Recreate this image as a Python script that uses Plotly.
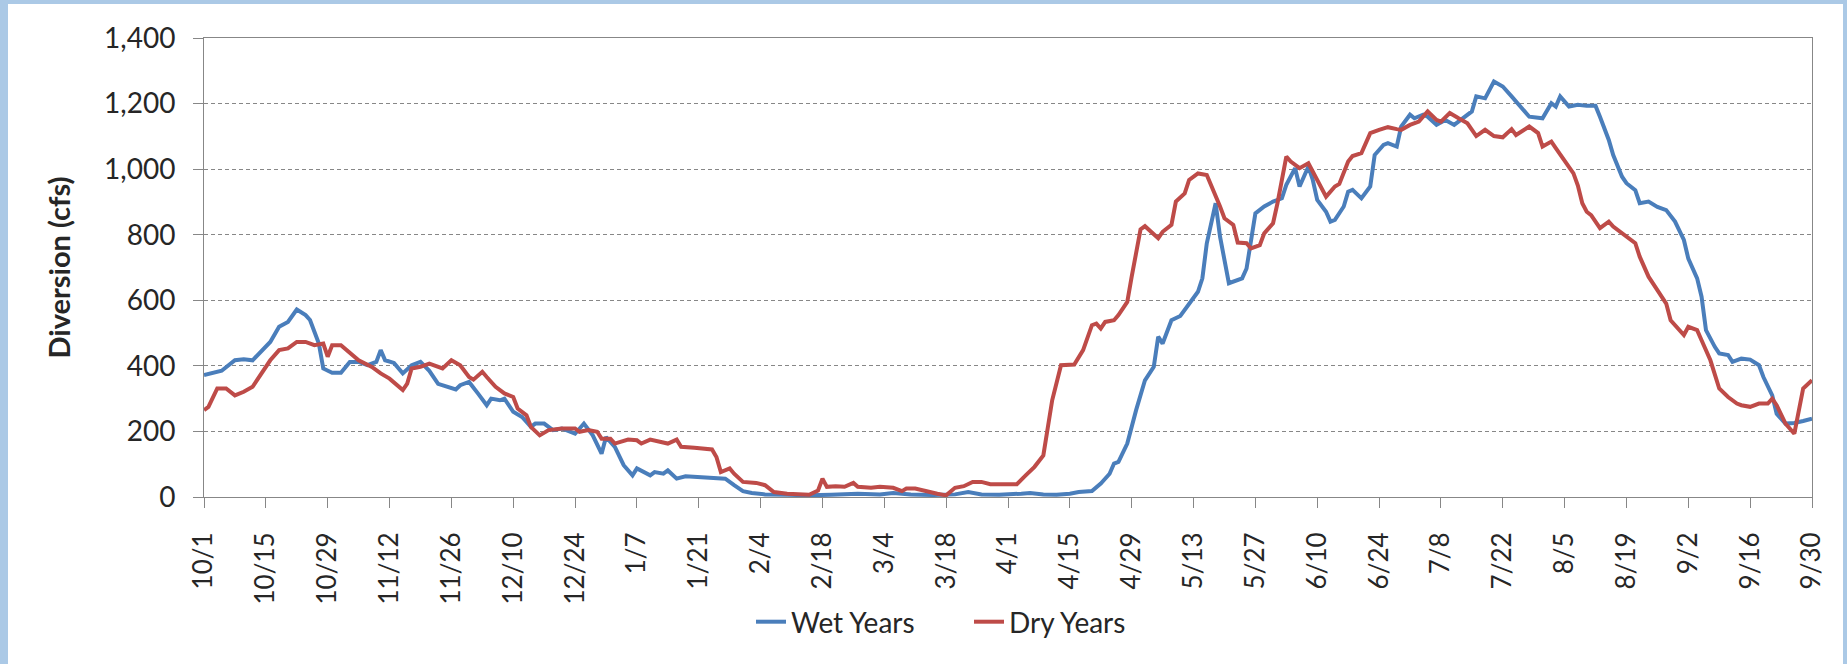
import pandas as pd
import plotly.graph_objects as go

# ---------------- data (day 0 = Oct 1 of the water year) ----------------
START = "2009-10-01"

wet_day = [0, 4, 7, 9, 11, 13, 15, 17, 19, 21, 23, 24, 26, 27, 29, 31, 33, 35, 37, 39,
           40, 41, 43, 45, 47, 49, 51, 53, 55, 57, 58, 60, 62, 64, 65, 67, 68, 70, 72, 74,
           75, 77, 79, 81, 84, 86, 88, 90, 91, 93, 95, 97, 98, 101, 102, 104, 105, 107, 109, 112,
           115, 118, 120, 122, 124, 127, 132, 137, 142, 148, 153, 156, 160, 165, 170, 173, 176, 180, 185, 187,
           190, 193, 196, 198, 201, 203, 205, 206, 207, 209, 211, 212, 213, 215, 216, 217, 219, 221, 222, 224,
           225, 226, 227, 229, 230, 232, 233, 235, 236, 238, 240, 242, 244, 245, 247, 248, 250, 251, 252, 254,
           255, 256, 258, 259, 260, 262, 264, 265, 267, 268, 270, 271, 273, 274, 276, 277, 279, 281, 283, 285,
           287, 288, 290, 292, 294, 296, 297, 299, 300, 303, 305, 306, 307, 309, 311, 313, 315, 316, 318, 319,
           321, 322, 324, 325, 327, 329, 331, 333, 335, 336, 338, 339, 340, 342, 343, 345, 346, 348, 350, 352,
           353, 355, 356, 358, 360, 362, 364]
wet_cfs = [372, 385, 417, 420, 417, 443, 473, 519, 534, 572, 555, 540, 468, 392, 379, 379, 412, 412, 402, 412,
           448, 417, 409, 377, 402, 412, 385, 345, 338, 328, 341, 351, 316, 280, 300, 295, 300, 260, 244, 214,
           224, 224, 204, 209, 193, 224, 188, 132, 183, 153, 97, 66, 87, 66, 76, 71, 81, 56, 63, 61,
           56, 56, 36, 18, 12, 8, 7, 5, 7, 10, 8, 12, 8, 6, 8, 15, 8, 7, 10, 12,
           8, 7, 10, 15, 18, 41, 71, 102, 107, 163, 265, 316, 356, 397, 489, 468, 539, 552, 570, 606,
           626, 667, 774, 896, 794, 652, 657, 667, 697, 865, 886, 901, 911, 952, 1003, 947, 1008, 967, 906, 870,
           840, 845, 886, 931, 937, 911, 947, 1043, 1074, 1079, 1069, 1130, 1166, 1155, 1166, 1160, 1135, 1150, 1135, 1155,
           1176, 1222, 1216, 1267, 1252, 1222, 1206, 1176, 1160, 1155, 1201, 1191, 1222, 1191, 1196, 1193, 1193, 1160, 1089, 1043,
           977, 957, 936, 896, 901, 885, 875, 840, 784, 727, 667, 611, 509, 458, 438, 433, 412, 422, 419, 402,
           366, 310, 254, 224, 226, 232, 239]

dry_day = [0, 1, 3, 5, 7, 9, 11, 13, 15, 17, 19, 21, 23, 25, 27, 28, 29, 31, 33, 35,
           38, 40, 42, 45, 46, 47, 49, 51, 54, 56, 58, 60, 61, 63, 64, 66, 68, 70, 71, 73,
           74, 76, 78, 81, 84, 85, 87, 89, 90, 92, 93, 96, 98, 99, 101, 103, 105, 107, 108, 111,
           113, 115, 116, 117, 119, 120, 122, 125, 127, 129, 132, 135, 137, 139, 140, 141, 143, 145, 147, 148,
           151, 153, 156, 158, 159, 161, 164, 166, 168, 170, 172, 174, 176, 178, 181, 184, 186, 188, 190, 191,
           192, 194, 197, 199, 201, 202, 203, 204, 206, 207, 209, 210, 212, 213, 214, 216, 217, 219, 220, 222,
           223, 225, 227, 228, 230, 231, 233, 234, 236, 237, 239, 240, 242, 243, 245, 246, 248, 250, 252, 254,
           256, 257, 259, 260, 262, 264, 266, 268, 270, 271, 273, 275, 277, 279, 280, 282, 284, 286, 288, 290,
           292, 294, 296, 297, 300, 302, 303, 305, 306, 308, 310, 311, 312, 313, 314, 316, 318, 319, 321, 324,
           325, 327, 329, 331, 332, 335, 336, 338, 339, 341, 343, 345, 347, 348, 350, 352, 354, 355, 356, 358,
           360, 361, 362, 364]
dry_cfs = [265, 275, 331, 331, 310, 321, 336, 377, 417, 448, 453, 473, 473, 463, 468, 428, 463, 463, 438, 417,
           397, 377, 361, 326, 346, 392, 397, 407, 392, 417, 402, 366, 358, 382, 366, 336, 316, 305, 270, 249,
           214, 188, 204, 209, 209, 199, 204, 199, 178, 178, 163, 175, 173, 163, 175, 168, 163, 175, 153, 150,
           148, 145, 122, 76, 87, 71, 46, 43, 36, 15, 10, 8, 7, 20, 56, 31, 33, 31, 43, 31,
           28, 31, 28, 18, 26, 26, 15, 10, 5, 28, 33, 46, 46, 39, 39, 39, 66, 92, 127, 204,
           295, 402, 404, 448, 524, 529, 514, 534, 539, 555, 595, 672, 816, 826, 814, 789, 809, 830, 901, 926,
           967, 987, 982, 952, 886, 850, 830, 776, 774, 758, 768, 804, 835, 896, 1038, 1023, 1003, 1018, 967, 916,
           947, 955, 1023, 1040, 1049, 1110, 1120, 1128, 1122, 1120, 1135, 1145, 1176, 1150, 1145, 1171, 1155, 1140, 1101, 1120,
           1101, 1097, 1122, 1104, 1130, 1110, 1069, 1084, 1064, 1023, 987, 950, 896, 870, 860, 820, 840, 825, 804, 774,
           733, 672, 631, 590, 539, 494, 519, 509, 478, 417, 331, 305, 285, 280, 275, 285, 285, 300, 280, 224,
           193, 270, 331, 356]

tick_labels = ["10/1", "10/15", "10/29", "11/12", "11/26", "12/10", "12/24", "1/7", "1/21",
               "2/4", "2/18", "3/4", "3/18", "4/1", "4/15", "4/29", "5/13", "5/27", "6/10",
               "6/24", "7/8", "7/22", "8/5", "8/19", "9/2", "9/16", "9/30"]

series_names = ["Wet Years", "Dry Years"]
series_colors = ["#4a7ebb", "#be4b48"]

# ---------------- helpers ----------------
start = pd.Timestamp(START)


def to_dates(days):
    return [start + pd.Timedelta(days=int(d)) for d in days]


def label_to_date(lbl):
    m, d = (int(v) for v in lbl.split("/"))
    year = start.year if m >= start.month else start.year + 1
    return pd.Timestamp(year=year, month=m, day=d)


tick_vals = [label_to_date(t) for t in tick_labels]

W, H = 1847, 664
L, R, T, B = 204, 35, 38, 167
PW, PH = W - L - R, H - T - B


def px_x(px):
    return (px - L) / PW


def px_y(py):
    return (T + PH - py) / PH


FONT = "Lato, 'Open Sans', Arial, sans-serif"
TXT = "#262626"
AX = "#878787"

fig = go.Figure()
for name, color, days, vals in [
    (series_names[0], series_colors[0], wet_day, wet_cfs),
    (series_names[1], series_colors[1], dry_day, dry_cfs),
]:
    fig.add_trace(go.Scatter(
        x=to_dates(days), y=vals, mode="lines", name=name,
        line=dict(color=color, width=4),
    ))

frame_blue = "#abc9e6"
shapes = [
    dict(type="rect", xref="paper", yref="paper", x0=px_x(0), x1=px_x(8), y0=px_y(H), y1=px_y(0),
         fillcolor=frame_blue, line=dict(width=0), layer="above"),
    dict(type="rect", xref="paper", yref="paper", x0=px_x(0), x1=px_x(W), y0=px_y(4), y1=px_y(0),
         fillcolor=frame_blue, line=dict(width=0), layer="above"),
    dict(type="rect", xref="paper", yref="paper", x0=px_x(1843), x1=px_x(W), y0=px_y(H), y1=px_y(0),
         fillcolor=frame_blue, line=dict(width=0), layer="above"),
]

fig.update_layout(
    width=W, height=H,
    margin=dict(l=L, r=R, t=T, b=B, autoexpand=False),
    paper_bgcolor="white", plot_bgcolor="white",
    font=dict(family=FONT, size=26, color=TXT),
    showlegend=True,
    legend=dict(orientation="h", x=px_x(969), xanchor="center", y=px_y(622), yanchor="middle",
                font=dict(size=28, color=TXT), entrywidth=173, bgcolor="rgba(0,0,0,0)"),
    shapes=shapes,
    hovermode=False,
)

fig.update_xaxes(
    type="date",
    range=[tick_vals[0], tick_vals[-1]],
    tickvals=tick_vals, ticktext=tick_labels, tickangle=-90,
    ticks="outside", ticklen=10, tickcolor=AX, tickwidth=1,
    showline=True, linecolor=AX, linewidth=1, mirror=True,
    showgrid=False, zeroline=False,
    tickfont=dict(size=26, color=TXT),
    ticklabelstandoff=14,
)
fig.update_yaxes(
    range=[0, 1400], dtick=200, tick0=0, tickformat=",d",
    ticks="outside", ticklen=10, tickcolor=AX, tickwidth=1,
    showline=True, linecolor=AX, linewidth=1, mirror=True,
    showgrid=True, gridcolor=AX, gridwidth=1, griddash="4px,3px",
    zeroline=False,
    tickfont=dict(size=28, color=TXT),
    ticklabelstandoff=12,
    title=dict(text="<b>Diversion (cfs)</b>", font=dict(size=29, color=TXT), standoff=24),
)

fig.write_html("out.html",
               config={"displayModeBar": False},
               post_script="document.body.style.margin='0';document.body.style.overflow='hidden';")
